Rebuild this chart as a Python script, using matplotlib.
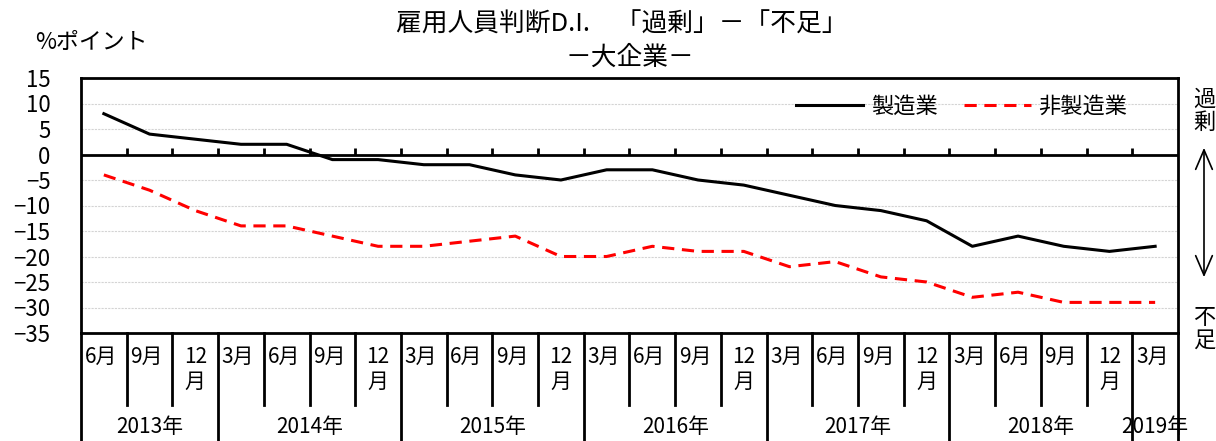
import matplotlib
matplotlib.use("Agg")
import matplotlib.pyplot as plt

plt.rcParams['font.family'] = ['Noto Sans CJK JP', 'DejaVu Sans']

# データ（雇用人員判断D.I. 大企業）
months = ["6月", "9月", "12\n月",
          "3月", "6月", "9月", "12\n月",
          "3月", "6月", "9月", "12\n月",
          "3月", "6月", "9月", "12\n月",
          "3月", "6月", "9月", "12\n月",
          "3月", "6月", "9月", "12\n月",
          "3月"]
years = ["2013年", "2014年", "2015年", "2016年", "2017年", "2018年", "2019年"]
year_counts = [3, 4, 4, 4, 4, 4, 1]

seizo = [8, 4, 3, 2, 2, -1, -1, -2, -2, -4, -5, -3, -3, -5, -6,
         -8, -10, -11, -13, -18, -16, -18, -19, -18]
hiseizo = [-4, -7, -11, -14, -14, -16, -18, -18, -17, -16, -20, -20, -18, -19, -19,
           -22, -21, -24, -25, -28, -27, -29, -29, -29]

fig = plt.figure(figsize=(12.16, 4.41), dpi=100)
ax = fig.add_axes([81 / 1216, 1 - 333 / 441, 1097 / 1216, 255 / 441])

x = list(range(len(months)))
ax.plot(x, seizo, color="black", lw=2.2, label="製造業")
ax.plot(x, hiseizo, color="red", lw=2.2, ls=(0, (4, 2.5)), label="非製造業")

ax.set_xlim(-0.5, len(months) - 0.5)
ax.set_ylim(-35, 15)
ax.set_yticks(range(-35, 16, 5))
ax.set_xticks([])
ax.tick_params(axis="y", length=0, pad=22, labelsize=16)
for yv in range(-30, 15, 5):
    if yv != 0:
        ax.axhline(yv, color="#d4d4d4", lw=0.8, ls=(0, (2, 1)), zorder=0)

# 0 の線と目盛り
ax.axhline(0, color="black", lw=2, zorder=1)
ax.vlines([i + 0.5 for i in x[:-1]], 0, 1.2, color="black", lw=2)

for s in ax.spines.values():
    s.set_linewidth(2)

# 下の表（月・年）
tr = ax.get_xaxis_transform()
bounds = []
pos = -0.5
for c in year_counts:
    pos += c
    bounds.append(pos)
for i in x[:-1]:
    b = i + 0.5
    bottom = -0.43 if b in bounds else -0.282
    ax.plot([b, b], [0, bottom], color="black", lw=2, transform=tr, clip_on=False)
for b in [-0.5, len(months) - 0.5]:
    ax.plot([b, b], [0, -0.43], color="black", lw=2, transform=tr, clip_on=False)

for i, m in enumerate(months):
    if "\n" in m:
        ax.text(i, -0.05, m, transform=tr, ha="center", va="top", fontsize=15,
                linespacing=1.2)
    else:
        ax.text(i - 0.42, -0.05, m, transform=tr, ha="left", va="top", fontsize=15)

start = -0.5
for yr, c in zip(years, year_counts):
    ax.text(start + c / 2, -0.37, yr, transform=tr, ha="center", va="center",
            fontsize=15)
    start += c

ax.legend(loc="center right", bbox_to_anchor=(0.954, 0.89), ncol=2, frameon=False,
          fontsize=16, handlelength=3.0, columnspacing=1.2, handletextpad=0.35,
          borderpad=0, borderaxespad=0)

# タイトルなど
fig.text(622 / 1216, 1 - 25 / 441, "雇用人員判断D.I.　「過剰」－「不足」",
         ha="center", va="center", fontsize=18.5)
fig.text(630 / 1216, 1 - 58 / 441, "－大企業－", ha="center", va="center", fontsize=18.5)
fig.text(35 / 1216, 1 - 42 / 441, "%ポイント", ha="left", va="center", fontsize=16.5)

fig.text(1204 / 1216, 1 - 111 / 441, "過\n剰", ha="center", va="center", fontsize=16,
         linespacing=1.0)
fig.text(1204 / 1216, 1 - 329 / 441, "不\n足", ha="center", va="center", fontsize=16,
         linespacing=1.0)
fig.patches.append(matplotlib.patches.FancyArrowPatch(
    (1204 / 1216, 1 - 145 / 441), (1204 / 1216, 1 - 280 / 441),
    transform=fig.transFigure, arrowstyle="<->,head_length=14,head_width=6",
    color="black", lw=1.2))

fig.savefig("out.png", dpi=100)
